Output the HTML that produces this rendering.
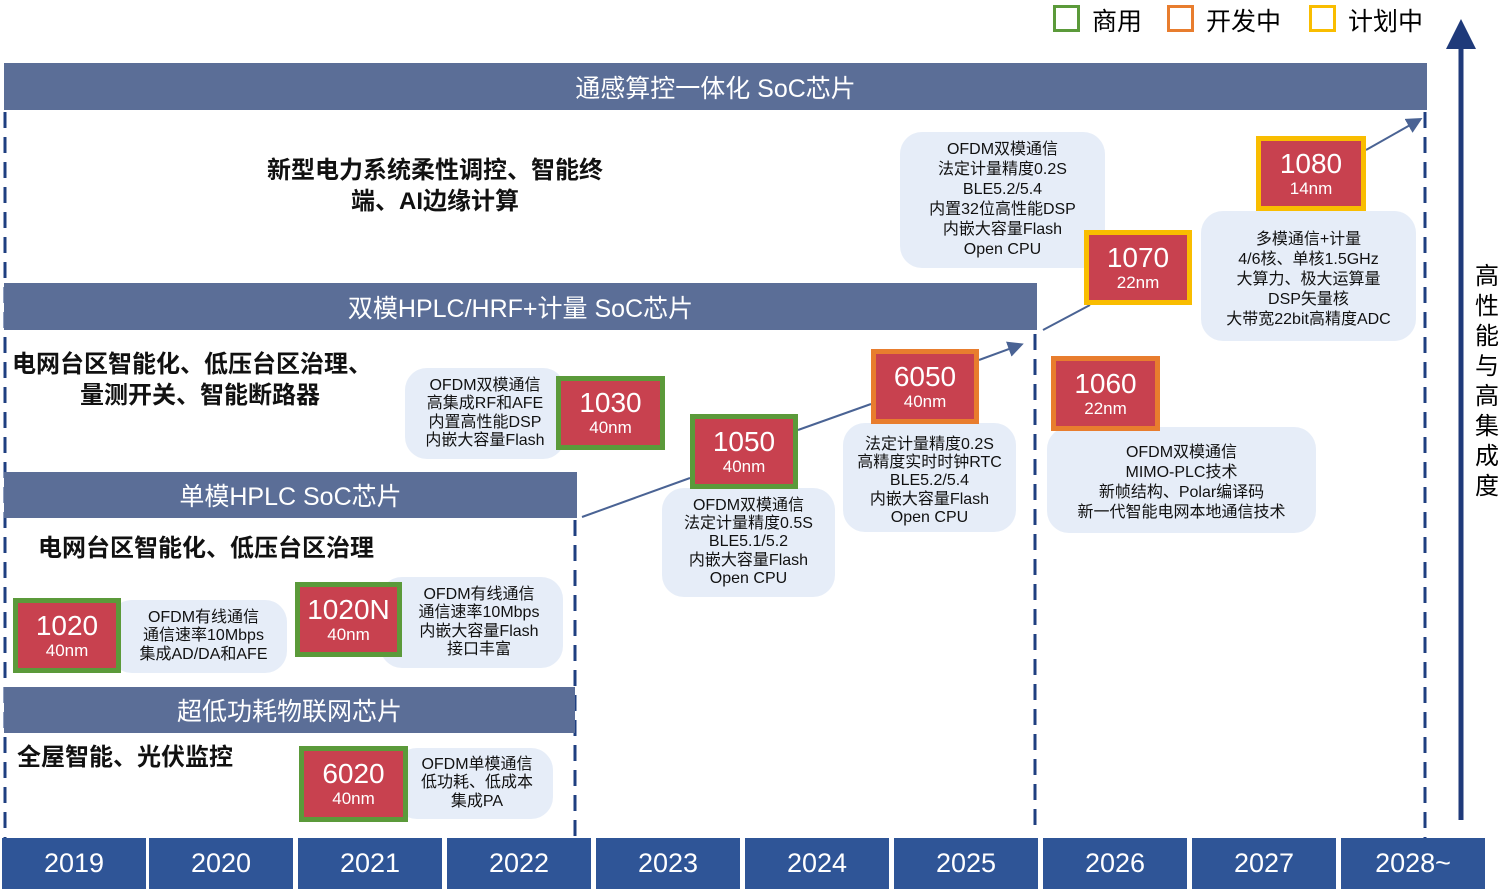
<!DOCTYPE html>
<html><head><meta charset="utf-8"><style>
*{margin:0;padding:0;box-sizing:border-box}
body{width:1500px;height:889px;background:#fff;position:relative;overflow:hidden;font-family:"Liberation Sans","Noto Sans CJK SC",sans-serif}
.a{position:absolute}
.ban{position:absolute;background:#5b6e97;color:#fff;font-size:25px;display:flex;align-items:center;justify-content:center}
.yr{position:absolute;top:838px;height:51px;width:144px;background:#2f5597;color:#fff;font-size:27px;display:flex;align-items:center;justify-content:center}
.chip{position:absolute;background:#c8414f;border:5px solid #5b9a3a;color:#fff;display:flex;flex-direction:column;align-items:center;justify-content:center;line-height:1.1}
.chip b{font-weight:normal;font-size:28px}.chip i{font-style:normal;font-size:17px}
.or{border-color:#e87d2e}.ye{border-color:#f9bd00}
.bub{position:absolute;background:#e6edf8;border-radius:22px;font-size:16px;color:#111;display:flex;flex-direction:column;align-items:center;justify-content:center;text-align:center;line-height:1.13}
.t{position:absolute;font-size:24px;color:#111;text-align:center;line-height:1.3;font-weight:bold}
</style></head><body>
<div class="a" style="left:1053px;top:5px;width:27px;height:27px;border:3px solid #5b9a3a"></div>
<div class="a" style="left:1092px;top:2px;font-size:25px">商用</div>
<div class="a" style="left:1167px;top:5px;width:27px;height:27px;border:3px solid #e87d2e"></div>
<div class="a" style="left:1206px;top:2px;font-size:25px">开发中</div>
<div class="a" style="left:1309px;top:5px;width:27px;height:27px;border:3px solid #f9bd00"></div>
<div class="a" style="left:1348px;top:2px;font-size:25px">计划中</div>

<svg class="a" style="left:0;top:0" width="1500" height="889">
<g stroke="#1f3f80" stroke-width="3" stroke-dasharray="16 9" fill="none">
<line x1="5" y1="112" x2="5" y2="838"/>
<line x1="575" y1="520" x2="575" y2="838"/>
<line x1="1035" y1="334" x2="1035" y2="830"/>
<line x1="1425" y1="112" x2="1425" y2="838"/>
</g></svg>

<div class="ban" style="left:4px;top:63px;width:1423px;height:47px">通感算控一体化 SoC芯片</div>
<div class="ban" style="left:4px;top:283px;width:1033px;height:47px">双模HPLC/HRF+计量 SoC芯片</div>
<div class="ban" style="left:4px;top:472px;width:573px;height:46px">单模HPLC SoC芯片</div>
<div class="ban" style="left:4px;top:687px;width:571px;height:46px">超低功耗物联网芯片</div>

<div class="t" style="left:230px;top:155px;width:410px">新型电力系统柔性调控、智能终<br>端、AI边缘计算</div>
<div class="t" style="left:12px;top:349px;text-align:left">电网台区智能化、低压台区治理、</div>
<div class="t" style="left:80px;top:380px;text-align:left">量测开关、智能断路器</div>
<div class="t" style="left:38px;top:533px;text-align:left">电网台区智能化、低压台区治理</div>
<div class="t" style="left:17px;top:742px;text-align:left">全屋智能、光伏监控</div>

<svg class="a" style="left:0;top:0" width="1500" height="889">
<defs><marker id="m" markerWidth="8" markerHeight="8" refX="6" refY="4" orient="auto"><path d="M0,0 L8,4 L0,8 z" fill="#4a6394"/></marker>
<marker id="n" markerWidth="6" markerHeight="6" refX="3" refY="3" orient="auto"><path d="M0,0 L6,3 L0,6 z" fill="#1f3a7a"/></marker></defs>
<g stroke="#4a6394" stroke-width="2" fill="none">
<line x1="582" y1="517" x2="690" y2="478"/>
<line x1="798" y1="430" x2="871" y2="404"/>
<line x1="979" y1="360" x2="1020" y2="345" marker-end="url(#m)"/>
<line x1="1043" y1="330" x2="1090" y2="305"/>
<line x1="1366" y1="150" x2="1419" y2="120" marker-end="url(#m)"/>
</g>
<line x1="1461" y1="820" x2="1461" y2="34" stroke="#1f3a7a" stroke-width="5" marker-end="url(#n)"/>
</svg>
<div class="a" style="left:1474px;top:262px;width:26px;font-size:24px;line-height:30px;text-align:center">高性能与高集成度</div>

<div class="bub" style="left:110px;top:600px;width:177px;height:73px;padding-left:10px">OFDM有线通信<br>通信速率10Mbps<br>集成AD/DA和AFE</div>
<div class="bub" style="left:380px;top:577px;width:183px;height:91px;padding-left:15px">OFDM有线通信<br>通信速率10Mbps<br>内嵌大容量Flash<br>接口丰富</div>
<div class="bub" style="left:395px;top:748px;width:158px;height:71px;padding-left:6px">OFDM单模通信<br>低功耗、低成本<br>集成PA</div>
<div class="bub" style="left:405px;top:368px;width:160px;height:91px">OFDM双模通信<br>高集成RF和AFE<br>内置高性能DSP<br>内嵌大容量Flash</div>
<div class="bub" style="left:662px;top:488px;width:173px;height:109px">OFDM双模通信<br>法定计量精度0.5S<br>BLE5.1/5.2<br>内嵌大容量Flash<br>Open CPU</div>
<div class="bub" style="left:843px;top:423px;width:173px;height:109px;padding-top:8px">法定计量精度0.2S<br>高精度实时时钟RTC<br>BLE5.2/5.4<br>内嵌大容量Flash<br>Open CPU</div>
<div class="bub" style="left:1047px;top:427px;width:269px;height:106px;padding-top:6px;line-height:1.25">OFDM双模通信<br>MIMO-PLC技术<br>新帧结构、Polar编译码<br>新一代智能电网本地通信技术</div>
<div class="bub" style="left:900px;top:132px;width:205px;height:136px;line-height:1.25">OFDM双模通信<br>法定计量精度0.2S<br>BLE5.2/5.4<br>内置32位高性能DSP<br>内嵌大容量Flash<br>Open CPU</div>
<div class="bub" style="left:1201px;top:211px;width:215px;height:130px;line-height:1.25;padding-top:8px">多模通信+计量<br>4/6核、单核1.5GHz<br>大算力、极大运算量<br>DSP矢量核<br>大带宽22bit高精度ADC</div>

<div class="chip" style="left:13px;top:598px;width:108px;height:75px"><b>1020</b><i>40nm</i></div>
<div class="chip" style="left:295px;top:582px;width:107px;height:75px"><b>1020N</b><i>40nm</i></div>
<div class="chip" style="left:299px;top:746px;width:109px;height:76px"><b>6020</b><i>40nm</i></div>
<div class="chip" style="left:556px;top:376px;width:109px;height:74px"><b>1030</b><i>40nm</i></div>
<div class="chip" style="left:690px;top:414px;width:108px;height:75px"><b>1050</b><i>40nm</i></div>
<div class="chip or" style="left:871px;top:349px;width:108px;height:75px"><b>6050</b><i>40nm</i></div>
<div class="chip or" style="left:1051px;top:356px;width:109px;height:75px"><b>1060</b><i>22nm</i></div>
<div class="chip ye" style="left:1084px;top:230px;width:108px;height:75px"><b>1070</b><i>22nm</i></div>
<div class="chip ye" style="left:1256px;top:136px;width:110px;height:75px"><b>1080</b><i>14nm</i></div>

<div class="yr" style="left:2px">2019</div>
<div class="yr" style="left:149px">2020</div>
<div class="yr" style="left:298px">2021</div>
<div class="yr" style="left:447px">2022</div>
<div class="yr" style="left:596px">2023</div>
<div class="yr" style="left:745px">2024</div>
<div class="yr" style="left:894px">2025</div>
<div class="yr" style="left:1043px">2026</div>
<div class="yr" style="left:1192px">2027</div>
<div class="yr" style="left:1341px">2028~</div>
</body></html>
